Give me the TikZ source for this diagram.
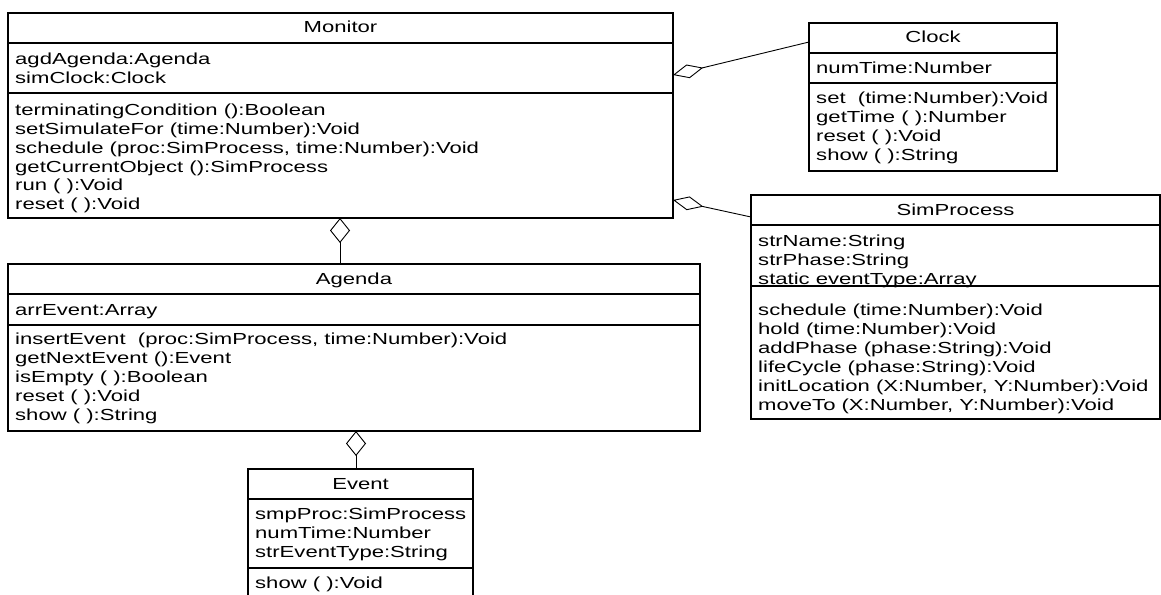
\documentclass[tikz,border=0pt]{standalone}
\usepackage{fontspec}
\setmainfont[FakeStretch=1.38]{Liberation Sans}
\usetikzlibrary{arrows.meta}

\newcommand{\umlfont}{\fontsize{16}{19}\selectfont}
\newcommand{\classsep}[2]{\draw[classline] ([yshift=-#2pt]#1.north west) -- ([yshift=-#2pt]#1.north east);}
\newcommand{\classrows}[4]{\foreach \txt [count=\k from 0] in {#4}
    \node[member] (#1\k) at (#2, #3+18.9*\k) {\txt};}

\tikzset{
    classbox/.style={draw, line width=1.1pt, anchor=north west, inner sep=0pt, outer sep=0pt},
    classline/.style={line width=1.1pt},
    title/.style={anchor=base, inner sep=0pt, font=\umlfont},
    member/.style={anchor=base west, inner sep=0pt, font=\umlfont},
    aggr/.style={line width=0.9pt, {Diamond[open,length=31pt,width=14pt]}-},
    aggrv/.style={line width=0.9pt, {Diamond[open,length=25pt,width=20pt]}-}
}

\begin{document}
\begin{tikzpicture}[x=1pt, y=-1pt]
    \useasboundingbox (0,0) rectangle (1161,594);
    % class boxes
    \node[classbox, minimum width=665pt, minimum height=205pt] (monitor) at (8,13) {};
    \node[classbox, minimum width=248pt, minimum height=148pt] (clock) at (809,23) {};
    \node[classbox, minimum width=409pt, minimum height=224pt] (simproc) at (751,195) {};
    \node[classbox, minimum width=692pt, minimum height=167pt] (agenda) at (8,264) {};
    \node[classbox, minimum width=225pt, minimum height=140pt] (event) at (248,469) {};
    % compartments
    \classsep{monitor}{30} \classsep{monitor}{80}
    \classsep{clock}{30} \classsep{clock}{60}
    \classsep{simproc}{30} \classsep{simproc}{91}
    \classsep{agenda}{30} \classsep{agenda}{61}
    \classsep{event}{30} \classsep{event}{99}
    \foreach \cls/\name in {monitor/Monitor, clock/Clock, simproc/SimProcess, agenda/Agenda, event/Event}
    \node[title] (\cls-t) at ([yshift=-20pt]\cls.north) {\name};
    % attributes and methods
    \classrows{monitor-a}{15}{64.8}{agdAgenda:Agenda, simClock:Clock}
    \classrows{monitor-m}{15}{115.3}{terminatingCondition ():Boolean, setSimulateFor (time:Number):Void,
        {schedule (proc:SimProcess, time:Number):Void}, getCurrentObject ():SimProcess, run ( ):Void, reset ( ):Void}
    \classrows{clock-a}{816}{73.5}{numTime:Number}
    \classrows{clock-m}{816}{103.8}{set\ \ (time:Number):Void, getTime ( ):Number, reset ( ):Void, show ( ):String}
    \classrows{simproc-a}{758}{246.5}{strName:String, strPhase:String, static eventType:Array}
    \classrows{simproc-m}{758}{315.5}{schedule (time:Number):Void, hold (time:Number):Void, addPhase (phase:String):Void,
        lifeCycle (phase:String):Void, {initLocation (X:Number, Y:Number):Void}, {moveTo (X:Number, Y:Number):Void}}
    \classrows{agenda-a}{15}{315.5}{arrEvent:Array}
    \classrows{agenda-m}{15}{344.8}{{insertEvent\ \ (proc:SimProcess, time:Number):Void}, getNextEvent ():Event,
        isEmpty ( ):Boolean, reset ( ):Void, show ( ):String}
    \classrows{event-a}{255}{519.5}{smpProc:SimProcess, numTime:Number, strEventType:String}
    \classrows{event-m}{255}{588.8}{show ( ):Void}
    % aggregations
    \draw[aggr] ([yshift=-62pt]monitor.north east) -- ([yshift=-19pt]clock.north west);
    \draw[aggr] ([yshift=-187pt]monitor.north east) -- ([yshift=-22pt]simproc.north west);
    \draw[aggrv] ([xshift=332pt]monitor.south west) -- ([xshift=332pt]agenda.north west);
    \draw[aggrv] ([xshift=348pt]agenda.south west) -- ([xshift=108pt]event.north west);
\end{tikzpicture}
\end{document}
